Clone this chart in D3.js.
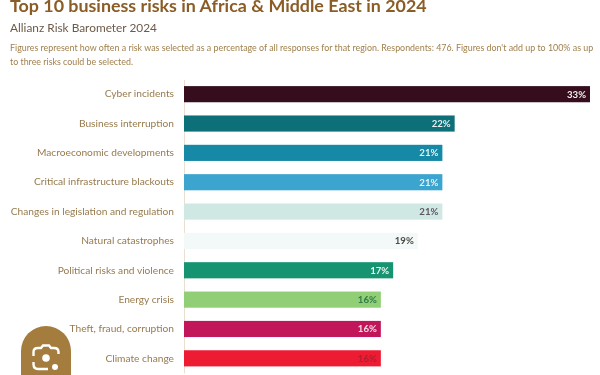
<!DOCTYPE html>
<html>
<head>
<meta charset="utf-8">
<script src="https://cdn.jsdelivr.net/npm/d3@7"></script>
<style>
  html, body { margin: 0; padding: 0; background: #fff; overflow: hidden; }
  text { font-family: Lato, "Open Sans", sans-serif; }
</style>
</head>
<body>
<div id="chart"></div>
<script>
// values
const risks = ["Cyber incidents", "Business interruption", "Macroeconomic developments",
    "Critical infrastructure blackouts", "Changes in legislation and regulation",
    "Natural catastrophes", "Political risks and violence", "Energy crisis",
    "Theft, fraud, corruption", "Climate change"];
const shares = [33, 22, 21, 21, 21, 19, 17, 16, 16, 16];
const barColors = ["#35101f", "#0f6f78", "#1389a6", "#3ba5cf", "#d0e8e4",
    "#f3f9f8", "#12936f", "#90cf74", "#c2185a", "#ee1c33"];
const valueColors = ["#f3ecea", "#e6f2f2", "#e6f2f2", "#e6f2f2", "#5d5560",
    "#4c4a44", "#f0f5f0", "#2f7a4a", "#f5dbe6", "#b0202f"];
const noteLines = [
    "Figures represent how often a risk was selected as a percentage of all responses for that region. Respondents: 476. Figures don't add up to 100% as up",
    "to three risks could be selected."
];

const width = 600, height = 375;
const margin = { top: 79.5, right: 10, bottom: 2, left: 184 };

const svg = d3.select("#chart").append("svg")
    .attr("width", width)
    .attr("height", height);

// the reference is a soft, low resolution picture
svg.append("defs").append("filter")
    .attr("id", "soft")
    .append("feGaussianBlur")
    .attr("stdDeviation", 0.55);

const plot = svg.append("g").attr("filter", "url(#soft)");

// scales
const x = d3.scaleLinear()
    .domain([0, d3.max(shares)])
    .range([margin.left, width - margin.right]);

const y = d3.scaleBand()
    .domain(risks)
    .range([margin.top, height - margin.bottom])
    .paddingInner(0.45)
    .paddingOuter(0.225);

// titles
plot.append("text")
    .attr("x", 10)
    .attr("y", 11.5)
    .attr("fill", "#8a5c25")
    .style("font-size", "17.85px")
    .style("font-weight", 700)
    .text("Top 10 business risks in Africa & Middle East in 2024");

plot.append("text")
    .attr("x", 10)
    .attr("y", 32)
    .attr("fill", "#6d5a48")
    .style("font-size", "11.85px")
    .text("Allianz Risk Barometer 2024");

plot.selectAll("text.note")
    .data(noteLines)
    .enter()
    .append("text")
    .attr("class", "note")
    .attr("x", 10)
    .attr("y", (d, i) => 50.5 + i * 14.5)
    .attr("fill", "#a07f4c")
    .style("font-size", "8.9px")
    .text(d => d);

// category axis, labels only plus the pale line
const yAxis = plot.append("g")
    .attr("transform", `translate(${margin.left},0)`)
    .call(d3.axisLeft(y).tickSize(0).tickPadding(10));
yAxis.select("path").attr("stroke", "#e9e0cf");
yAxis.selectAll("text")
    .attr("fill", "#977b4e")
    .style("font-size", "10.2px");

// bars
const rows = plot.selectAll("g.row")
    .data(risks)
    .enter()
    .append("g")
    .classed("row", true);

rows.append("rect")
    .attr("x", x(0))
    .attr("y", d => y(d))
    .attr("width", (d, i) => x(shares[i]) - x(0))
    .attr("height", y.bandwidth())
    .attr("fill", (d, i) => barColors[i]);

rows.append("text")
    .attr("x", (d, i) => x(shares[i]) - 4)
    .attr("y", d => y(d) + y.bandwidth() / 2)
    .attr("dy", ".35em")
    .attr("text-anchor", "end")
    .attr("fill", (d, i) => valueColors[i])
    .style("font-size", "9.6px")
    .style("font-weight", 700)
    .text((d, i) => shares[i] + "%");

// lens badge sitting over the bottom left corner of the screenshot
const badge = svg.append("g").attr("filter", "url(#soft)");
badge.append("path")
    .attr("d", "M21,375 L21,351 A25,25 0 0 1 71,351 L71,375 Z")
    .attr("fill", "#a47c3c");
badge.append("path")
    .attr("d", "M33.5,356 L33.5,352 Q33.5,348 38,348 L41,348 L43,345.5 L49,345.5 L51,348 L54,348 Q58.5,348 58.5,352 L58.5,354 M33.5,362 L33.5,364 Q33.5,369 38,369 L48,369")
    .attr("fill", "none")
    .attr("stroke", "#fff")
    .attr("stroke-width", 2.4);
badge.append("circle").attr("cx", 46).attr("cy", 358).attr("r", 3.8).attr("fill", "#fff");
badge.append("circle").attr("cx", 55).attr("cy", 367).attr("r", 3).attr("fill", "#fff");
</script>
</body>
</html>
